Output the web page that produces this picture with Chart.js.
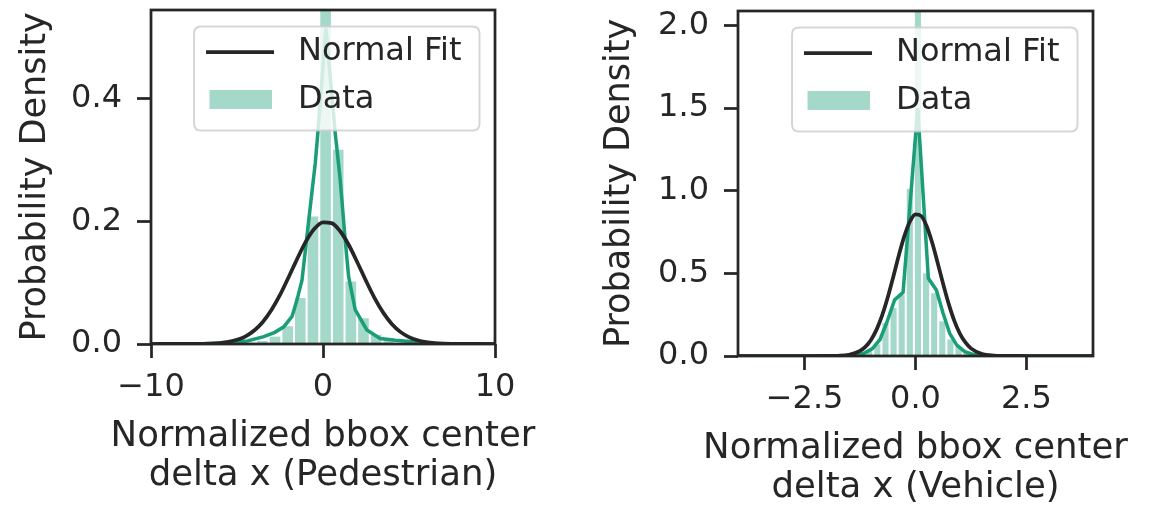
<!DOCTYPE html>
<html>
<head>
<meta charset="utf-8">
<script src="https://cdn.jsdelivr.net/npm/chart.js@4.4.1/dist/chart.umd.min.js"></script>
<style>
html,body{margin:0;padding:0;background:#fff;}
#wrap{position:relative;width:1164px;height:505px;overflow:hidden;}
#ped{position:absolute;left:0;top:0;}
#veh{position:absolute;left:582px;top:0;}
</style>
</head>
<body>
<div id="wrap">
<canvas id="ped" width="582" height="505"></canvas>
<canvas id="veh" width="582" height="505"></canvas>
</div>
<script>
// ---------- Pedestrian panel data ----------
const pedBinCenters = [-4.26, -3.525, -2.79, -2.055, -1.32, -0.585, 0.15, 0.885, 1.62, 2.355, 3.09, 3.825, 4.56];
const pedBinDensity = [0.002, 0.005, 0.012, 0.029, 0.075, 0.208, 0.62, 0.317, 0.102, 0.042, 0.015, 0.006, 0.002];
const pedKdeX = [-10, -7, -5.5, -4.4, -3.44, -2.8, -2.28, -1.8, -1.51, -1.22, -0.83, -0.45, -0.3, 0.17, 0.71, 1.0, 1.29, 1.49, 1.87, 2.55, 3.32, 4.2, 5.06, 6.5, 10];
const pedKdeY = [0, 0.0005, 0.002, 0.005, 0.012, 0.019, 0.028, 0.045, 0.072, 0.104, 0.202, 0.295, 0.344, 0.515, 0.344, 0.268, 0.17, 0.11, 0.056, 0.023, 0.009, 0.006, 0.004, 0.001, 0];
const pedFitX = [-10, -9, -8, -7.5, -7, -6.5, -6, -5.5, -5, -4.5, -4, -3.5, -3, -2.5, -2, -1.5, -1, -0.5, 0, 0.5, 1, 1.5, 2, 2.5, 3, 3.5, 4, 4.5, 5, 5.5, 6, 6.5, 7, 7.5, 8, 9, 10];
const pedFitY = [0, 0.00001, 0.00005, 0.00012, 0.0003, 0.0007, 0.0016, 0.0034, 0.0068, 0.0126, 0.022, 0.036, 0.0555, 0.080, 0.109, 0.139, 0.167, 0.188, 0.1985, 0.1973, 0.184, 0.1615, 0.133, 0.103, 0.0749, 0.0512, 0.0328, 0.0198, 0.0112, 0.006, 0.003, 0.0014, 0.0006, 0.00026, 0.0001, 0.00001, 0];
const pedXTicks = [-10, 0, 10];
const pedXTickLabels = ['\u221210', '0', '10'];
const pedYTicks = [0, 0.2, 0.4];
const pedYTickLabels = ['0.0', '0.2', '0.4'];
const pedXTitle = ['Normalized bbox center', 'delta x (Pedestrian)'];

// ---------- Vehicle panel data ----------
const vehBinCenters = [-1.409, -1.226, -1.043, -0.86, -0.677, -0.494, -0.311, -0.128, 0.055, 0.238, 0.421, 0.604, 0.787, 0.97, 1.153, 1.336, 1.519];
const vehBinDensity = [0.004, 0.012, 0.03, 0.07, 0.20, 0.29, 0.37, 1.01, 2.3, 0.50, 0.38, 0.21, 0.10, 0.055, 0.025, 0.01, 0.004];
const vehKdeX = [-4, -2.2, -1.6, -1.35, -1.16, -0.97, -0.8, -0.65, -0.47, -0.28, 0.05, 0.29, 0.47, 0.62, 0.77, 0.93, 1.11, 1.3, 1.5, 1.8, 2.2, 4];
const vehKdeY = [0, 0.0005, 0.002, 0.006, 0.016, 0.045, 0.10, 0.20, 0.34, 0.385, 1.50, 0.47, 0.40, 0.26, 0.137, 0.066, 0.026, 0.01, 0.005, 0.001, 0.0002, 0];
const vehFitX = [-4, -3, -2.5, -2, -1.75, -1.5, -1.25, -1.125, -1, -0.875, -0.75, -0.625, -0.5, -0.375, -0.25, -0.125, 0, 0.125, 0.25, 0.375, 0.5, 0.625, 0.75, 0.875, 1, 1.125, 1.25, 1.5, 1.75, 2, 2.5, 3, 4];
const vehFitY = [0, 0, 0, 0.0002, 0.0014, 0.0075, 0.031, 0.057, 0.099, 0.161, 0.247, 0.355, 0.480, 0.610, 0.727, 0.814, 0.857, 0.848, 0.787, 0.687, 0.563, 0.434, 0.314, 0.213, 0.136, 0.082, 0.046, 0.012, 0.0025, 0.0004, 0, 0, 0];
const vehXTicks = [-2.5, 0, 2.5];
const vehXTickLabels = ['\u22122.5', '0.0', '2.5'];
const vehYTicks = [0, 0.5, 1.0, 1.5, 2.0];
const vehYTickLabels = ['0.0', '0.5', '1.0', '1.5', '2.0'];
const vehXTitle = ['Normalized bbox center', 'delta x (Vehicle)'];

const legendFitLabel = 'Normal Fit';
const legendDataLabel = 'Data';
const yTitle = 'Probability Density';

// ---------- styling ----------
const INK = '#262626';
const GREEN = '#1b9e77';
const BARFILL = 'rgba(27,158,119,0.4)';
const FONT = "'DejaVu Sans', sans-serif";
Chart.defaults.font.family = FONT;
Chart.defaults.color = INK;

function roundRectPath(ctx, L, T, w, h, r) {
  ctx.beginPath();
  ctx.moveTo(L + r, T);
  ctx.lineTo(L + w - r, T); ctx.quadraticCurveTo(L + w, T, L + w, T + r);
  ctx.lineTo(L + w, T + h - r); ctx.quadraticCurveTo(L + w, T + h, L + w - r, T + h);
  ctx.lineTo(L + r, T + h); ctx.quadraticCurveTo(L, T + h, L, T + h - r);
  ctx.lineTo(L, T + r); ctx.quadraticCurveTo(L, T, L + r, T);
  ctx.closePath();
}

const framePlugin = {
  id: 'frameAndLegend',
  afterDatasetsDraw(chart, args, opts) {
    const ctx = chart.ctx, a = chart.chartArea;
    ctx.save();
    // full box spines
    ctx.lineWidth = 2.75;
    ctx.strokeStyle = INK;
    ctx.strokeRect(a.left, a.top, a.right - a.left, a.bottom - a.top);
    // legend in upper right corner
    const items = chart.data.datasets.filter(d => d.legendKind);
    ctx.font = "32px " + FONT;
    const tw = Math.max(...items.map(d => ctx.measureText(d.label).width));
    const w = 104 + tw + 18, h = 104;
    const L = a.right - 15.5 - w, T = a.top + 16.5;
    roundRectPath(ctx, L, T, w, h, 7);
    ctx.fillStyle = 'rgba(255,255,255,0.8)';
    ctx.fill();
    ctx.lineWidth = 2;
    ctx.strokeStyle = 'rgba(204,204,204,0.8)';
    ctx.stroke();
    const rows = [T + 25.5, T + 73];
    items.forEach((d, i) => {
      const y = rows[i];
      if (d.legendKind === 'line') {
        ctx.beginPath();
        ctx.moveTo(L + 12, y); ctx.lineTo(L + 80, y);
        ctx.lineWidth = d.borderWidth; ctx.strokeStyle = d.borderColor; ctx.stroke();
      } else {
        ctx.fillStyle = d.backgroundColor;
        ctx.fillRect(L + 15.5, y - 9.5, 62.5, 19);
      }
      ctx.fillStyle = INK;
      ctx.textBaseline = 'middle';
      ctx.textAlign = 'left';
      ctx.fillText(d.label, L + 104, y);
    });
    // x-axis title (two centred lines under the axis)
    ctx.font = "35.5px " + FONT;
    ctx.fillStyle = INK;
    ctx.textAlign = 'center';
    ctx.textBaseline = 'alphabetic';
    const cx = (a.left + a.right) / 2;
    opts.xTitle.forEach((line, i) => {
      ctx.fillText(line, cx, a.bottom + opts.titleBase + i * opts.titleGap);
    });
    ctx.restore();
  }
};

function build(id, o) {
  const bars = o.binCenters.map((x, i) => ({x: x, y: o.binDensity[i]}));
  const kde = o.kdeX.map((x, i) => ({x: x, y: o.kdeY[i]}));
  const fit = o.fitX.map((x, i) => ({x: x, y: o.fitY[i]}));
  return new Chart(document.getElementById(id), {
    type: 'bar',
    data: {
      datasets: [
        {type: 'line', label: legendFitLabel, data: fit, borderColor: INK, borderWidth: 3.75,
         pointRadius: 0, cubicInterpolationMode: 'monotone', order: 0, legendKind: 'line'},
        {type: 'line', label: '', data: kde, borderColor: GREEN, borderWidth: 3.5,
         pointRadius: 0, tension: 0, order: 1},
        {type: 'bar', label: legendDataLabel, data: bars, backgroundColor: BARFILL,
         barPercentage: o.barPct, categoryPercentage: 1, order: 2, legendKind: 'patch'}
      ]
    },
    options: {
      responsive: false, animation: false, devicePixelRatio: 1,
      layout: {padding: {left: 0, right: o.padRight, top: o.padTop, bottom: 0}},
      plugins: {
        legend: {display: false}, tooltip: {enabled: false},
        frameAndLegend: {xTitle: o.xTitle, titleBase: 101.5, titleGap: 39}
      },
      scales: {
        x: {
          type: 'linear', position: 'bottom', min: o.xMin, max: o.xMax, offset: false,
          grid: {offset: false, drawOnChartArea: false, drawTicks: true, tickLength: 14, tickWidth: 2.75, tickColor: INK, color: INK},
          border: {display: false},
          ticks: {font: {size: 32}, color: INK, padding: 10, maxRotation: 0, minRotation: 0, autoSkip: false,
                  callback: (v, i) => o.xTickLabels[i]},
          afterBuildTicks: (s) => { s.ticks = o.xTicks.map(v => ({value: v})); },
          afterFit: (s) => { s.height = o.xAxisH; s.paddingLeft = 0; s.paddingRight = 0; s.paddingTop = 0; s.paddingBottom = 0; },
          title: {display: false}
        },
        y: {
          type: 'linear', position: 'left', min: 0, max: o.yMax,
          grid: {drawOnChartArea: false, drawTicks: true, tickLength: 14, tickWidth: 2.75, tickColor: INK, color: INK},
          border: {display: false},
          ticks: {font: {size: 32}, color: INK, padding: 15, autoSkip: false,
                  callback: (v, i) => o.yTickLabels[i]},
          afterBuildTicks: (s) => { s.ticks = o.yTicks.map(v => ({value: v})); },
          afterFit: (s) => { s.width = o.yAxisW; s.paddingTop = 0; s.paddingBottom = 0; s.paddingLeft = 0; s.paddingRight = 0; },
          title: {display: true, text: yTitle, color: INK, font: {size: 35, lineHeight: 1.2},
                  padding: {top: o.yTitlePad, bottom: 0}}
        }
      }
    },
    plugins: [framePlugin]
  });
}

build('ped', {
  binCenters: pedBinCenters, binDensity: pedBinDensity,
  kdeX: pedKdeX, kdeY: pedKdeY, fitX: pedFitX, fitY: pedFitY,
  xTicks: pedXTicks, xTickLabels: pedXTickLabels, yTicks: pedYTicks, yTickLabels: pedYTickLabels,
  xTitle: pedXTitle, xMin: -10, xMax: 10, yMax: 0.545, barPct: 0.84,
  padRight: 87, padTop: 10, xAxisH: 161, yAxisW: 151, yTitlePad: 15
});
build('veh', {
  binCenters: vehBinCenters, binDensity: vehBinDensity,
  kdeX: vehKdeX, kdeY: vehKdeY, fitX: vehFitX, fitY: vehFitY,
  xTicks: vehXTicks, xTickLabels: vehXTickLabels, yTicks: vehYTicks, yTickLabels: vehYTickLabels,
  xTitle: vehXTitle, xMin: -4, xMax: 4, yMax: 2.088, barPct: 0.75,
  padRight: 71, padTop: 11, xAxisH: 149, yAxisW: 156, yTitlePad: 16.5
});
</script>
</body>
</html>
